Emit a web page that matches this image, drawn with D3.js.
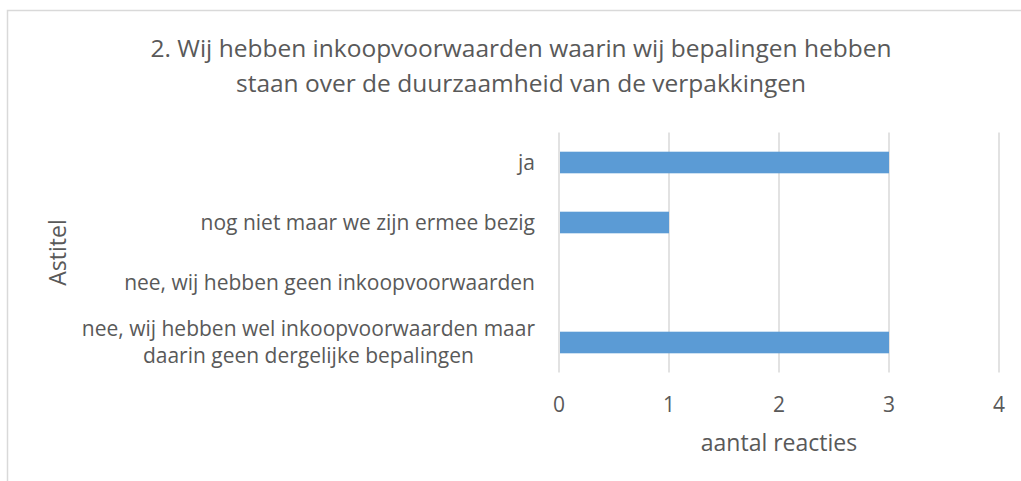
<!DOCTYPE html>
<html>
<head>
<meta charset="utf-8">
<script src="https://cdn.jsdelivr.net/npm/d3@7"></script>
<style>
  body { margin: 0; background: #fff; }
  svg { display: block; font-family: "Open Sans", sans-serif; }
  text { fill: #595959; }
</style>
</head>
<body>
<svg width="1021" height="481"></svg>
<script>
const width = 1021;
const height = 481;

const chartTitle = ["2. Wij hebben inkoopvoorwaarden waarin wij bepalingen hebben",
                    "staan over de duurzaamheid van de verpakkingen"];
const categories = [
    ["ja"],
    ["nog niet maar we zijn ermee bezig"],
    ["nee, wij hebben geen inkoopvoorwaarden"],
    ["nee, wij hebben wel inkoopvoorwaarden maar", "daarin geen dergelijke bepalingen"]
];
const values = [3, 1, 0, 3];
const xTicks = [0, 1, 2, 3, 4];
const xTitle = "aantal reacties";
const yTitle = "Astitel";

const plot = { left: 559, right: 999, top: 132.5, bottom: 372.5 };

const svg = d3.select("svg");

// chart frame (only left/top edges fall inside the window)
svg.append("rect")
    .attr("x", 7.5).attr("y", 10.5)
    .attr("width", 1100).attr("height", 600)
    .attr("fill", "none")
    .attr("stroke", "#d9d9d9")
    .attr("stroke-width", 1.5);

const x = d3.scaleLinear().domain([0, 4]).range([plot.left, plot.right]);
const y = d3.scaleBand()
    .domain(d3.range(categories.length))
    .range([plot.top, plot.bottom])
    .paddingInner(0.64)
    .paddingOuter(0.32);

// gridlines
svg.append("g").selectAll("line")
    .data(xTicks)
    .enter().append("line")
    .attr("x1", d => x(d)).attr("x2", d => x(d))
    .attr("y1", plot.top).attr("y2", plot.bottom)
    .attr("stroke", "#d9d9d9")
    .attr("stroke-width", 1.5);

// bars
svg.append("g").selectAll("rect")
    .data(values)
    .enter().append("rect")
    .attr("x", x(0) + 1)
    .attr("y", (d, i) => y(i))
    .attr("width", d => Math.max(0, x(d) - x(0) - 1))
    .attr("height", y.bandwidth())
    .attr("fill", "#5b9bd5");

// x tick labels
svg.append("g").selectAll("text")
    .data(xTicks)
    .enter().append("text")
    .attr("x", d => x(d))
    .attr("y", 405)
    .attr("dy", "0.35em")
    .attr("text-anchor", "middle")
    .style("font-size", "21px")
    .text(d => d);

// category labels, multi-line blocks centred on their widest line
const catG = svg.append("g");
categories.forEach((lines, i) => {
    const cy = y(i) + y.bandwidth() / 2;
    const lh = 27;
    const t = catG.append("text")
        .style("font-size", "21px")
        .attr("text-anchor", lines.length > 1 ? "middle" : "end");
    lines.forEach((ln, k) => {
        t.append("tspan")
            .attr("x", 535)
            .attr("y", cy + (k - (lines.length - 1) / 2) * lh)
            .attr("dy", "0.35em")
            .text(ln);
    });
    if (lines.length > 1) {
        const w = d3.max(t.selectAll("tspan").nodes(), n => n.getComputedTextLength());
        t.selectAll("tspan").attr("x", 535 - w / 2);
    }
});

// axis titles
svg.append("text")
    .attr("x", (plot.left + plot.right) / 2)
    .attr("y", 443)
    .attr("dy", "0.35em")
    .attr("text-anchor", "middle")
    .style("font-size", "23px")
    .text(xTitle);

svg.append("text")
    .attr("transform", `translate(58,${(plot.top + plot.bottom) / 2}) rotate(-90)`)
    .attr("dy", "0.35em")
    .attr("text-anchor", "middle")
    .style("font-size", "23px")
    .text(yTitle);

// chart title
svg.append("g").selectAll("text")
    .data(chartTitle)
    .enter().append("text")
    .attr("x", 521)
    .attr("y", (d, i) => 48 + i * 35)
    .attr("dy", "0.35em")
    .attr("text-anchor", "middle")
    .style("font-size", "24.5px")
    .text(d => d);
</script>
</body>
</html>
